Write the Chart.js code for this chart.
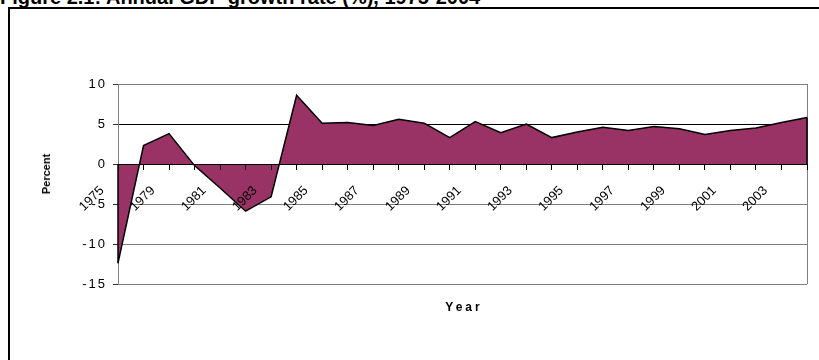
<!DOCTYPE html>
<html lang="en">
<head>
    <meta charset="UTF-8">
    <title>Annual GDP growth rate (%), 1975-2004</title>
    <script src="https://cdn.jsdelivr.net/npm/chart.js"></script>
    <style>
        body {
            margin: 0;
            width: 819px;
            height: 360px;
            overflow: hidden;
            position: relative;
            background: #fff;
            font-family: Arial, "Liberation Sans", sans-serif;
        }
        #title {
            position: absolute;
            left: 0;
            top: -14px;
            font-size: 20px;
            font-weight: bold;
            white-space: nowrap;
        }
        #frame {
            position: absolute;
            left: 8px;
            top: 7px;
            width: 830px;
            height: 370px;
            border: 2px solid #000;
        }
        #chart-container {
            position: absolute;
            left: 0;
            top: 0;
            width: 819px;
            height: 360px;
        }
        .axis-title {
            position: absolute;
            font-weight: bold;
            white-space: nowrap;
        }
        #y-title {
            font-size: 11px;
            left: 46px;
            top: 174px;
            transform: translate(-50%, -50%) rotate(-90deg);
        }
        #x-title {
            font-size: 12px;
            letter-spacing: 3px;
            left: 464px;
            top: 307px;
            transform: translate(-50%, -50%);
        }
    </style>
</head>
<body>
    <div id="title">Figure 2.1: Annual GDP growth rate (%), 1975-2004</div>
    <div id="frame"></div>
    <div id="chart-container">
        <canvas id="gdp-chart" width="819" height="360"></canvas>
    </div>
    <div class="axis-title" id="y-title">Percent</div>
    <div class="axis-title" id="x-title">Year</div>

    <script>
        // Años y crecimiento del PIB (%)
        const years = ['1975', '1977', '1979', '1980', '1981', '1982', '1983', '1984', '1985', '1986',
                       '1987', '1988', '1989', '1990', '1991', '1992', '1993', '1994', '1995', '1996',
                       '1997', '1998', '1999', '2000', '2001', '2002', '2003', '2004'];
        const growth = [-12.4, 2.3, 3.8, -0.2, -3.0, -5.9, -4.1, 8.6, 5.1, 5.2,
                        4.8, 5.6, 5.1, 3.3, 5.3, 3.9, 5.0, 3.3, 4.0, 4.6,
                        4.2, 4.7, 4.4, 3.7, 4.2, 4.5, 5.2, 5.8];
        // Etiquetas visibles en los ejes
        const shownYears = ['1975', '1979', '1981', '1983', '1985', '1987', '1989', '1991', '1993',
                            '1995', '1997', '1999', '2001', '2003'];
        const percentTicks = [-15, -10, -5, 0, 5, 10];

        // Espaciado de letras solo para las etiquetas del eje Y (se dibujan antes que los datos)
        const letterSpacingPlugin = {
            id: 'yLetterSpacing',
            beforeDraw(chart) {
                chart.ctx.letterSpacing = '2px';
            },
            beforeDatasetsDraw(chart) {
                chart.ctx.letterSpacing = '0px';
            }
        };

        // Borde derecho del área de trazado y bordes verticales del área rellena
        const framePlugin = {
            id: 'plotFrame',
            afterDatasetsDraw(chart) {
                const { ctx, chartArea, scales } = chart;
                ctx.save();
                ctx.lineWidth = 1;
                ctx.strokeStyle = '#808080';
                ctx.beginPath();
                ctx.moveTo(Math.round(chartArea.right) + 0.5, chartArea.top);
                ctx.lineTo(Math.round(chartArea.right) + 0.5, chartArea.bottom);
                ctx.stroke();

                ctx.strokeStyle = '#000';
                ctx.lineWidth = 1.5;
                const zero = scales.y.getPixelForValue(0);
                [0, growth.length - 1].forEach(i => {
                    const x = scales.x.getPixelForValue(i);
                    ctx.beginPath();
                    ctx.moveTo(x, zero);
                    ctx.lineTo(x, scales.y.getPixelForValue(growth[i]));
                    ctx.stroke();
                });
                ctx.restore();
            }
        };

        const ctx = document.getElementById('gdp-chart').getContext('2d');
        const gdpChart = new Chart(ctx, {
            type: 'line',
            data: {
                labels: years,
                datasets: [{
                    data: growth,
                    fill: 'origin',
                    backgroundColor: '#993366',
                    borderColor: '#000',
                    borderWidth: 1.5,
                    pointRadius: 0,
                    tension: 0
                }]
            },
            options: {
                responsive: false,
                animation: false,
                layout: {
                    padding: { top: 84, right: 12, bottom: 76, left: 0 }
                },
                plugins: {
                    legend: { display: false },
                    tooltip: { enabled: false }
                },
                scales: {
                    x: {
                        type: 'category',
                        position: { y: 0 },
                        offset: false,
                        afterFit: (scale) => {
                            scale.paddingLeft = 0;
                            scale.paddingRight = 0;
                        },
                        grid: {
                            z: 1,
                            drawOnChartArea: false,
                            drawTicks: true,
                            tickLength: 5,
                            tickColor: '#000'
                        },
                        border: { z: 1, color: '#000', width: 1 },
                        ticks: {
                            z: 1,
                            autoSkip: false,
                            minRotation: 45,
                            maxRotation: 45,
                            padding: 14,
                            labelOffset: -16,
                            color: '#000',
                            font: { family: 'Arial', size: 13 },
                            callback: (value, i) => shownYears.includes(years[i]) ? years[i] : ''
                        }
                    },
                    y: {
                        min: -15,
                        max: 10,
                        afterBuildTicks: (scale) => {
                            scale.ticks = percentTicks.map(v => ({ value: v }));
                        },
                        afterFit: (scale) => {
                            scale.width = 118;
                        },
                        grid: {
                            color: (c) => c.tick && c.tick.value === 5 ? '#000' : '#808080',
                            tickColor: '#333',
                            tickLength: 5
                        },
                        border: { color: '#808080' },
                        ticks: {
                            padding: 6,
                            color: '#000',
                            font: { family: 'Arial', size: 13 }
                        }
                    }
                }
            },
            plugins: [letterSpacingPlugin, framePlugin]
        });
    </script>
</body>
</html>
